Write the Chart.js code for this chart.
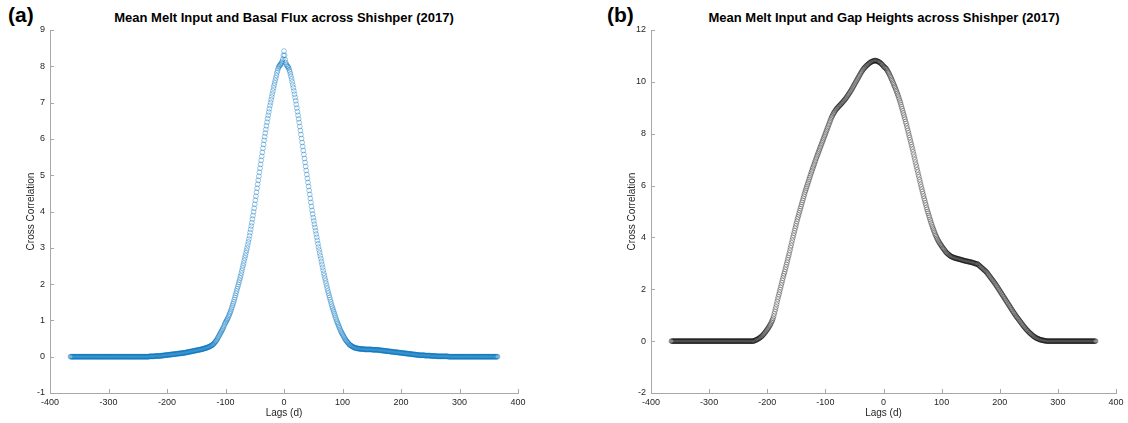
<!DOCTYPE html>
<html>
<head>
<meta charset="utf-8">
<script src="https://cdn.jsdelivr.net/npm/chart.js@4.4.1/dist/chart.umd.min.js"></script>
<style>
  body { margin:0; width:1128px; height:423px; background:#fff; overflow:hidden; position:relative;
         font-family:"Liberation Sans", Arial, Helvetica, sans-serif; }
  .panel { position:absolute; top:0; height:423px; }
  .tag { position:absolute; font-weight:bold; font-size:21px; line-height:24px; color:#000; }
  .ttl { position:absolute; font-weight:bold; font-size:13px; line-height:16px; color:#000;
         white-space:nowrap; transform:translateX(-50%); }
</style>
</head>
<body>
<div class="tag" style="left:8px;top:3px">(a)</div>
<div class="ttl" style="left:284px;top:10px">Mean Melt Input and Basal Flux across Shishper (2017)</div>
<div class="panel" style="left:0;width:560px"><canvas id="chartA" width="560" height="423"></canvas></div>

<div class="tag" style="left:607px;top:3px">(b)</div>
<div class="ttl" style="left:884px;top:10px">Mean Melt Input and Gap Heights across Shishper (2017)</div>
<div class="panel" style="left:600px;width:528px"><canvas id="chartB" width="528" height="423"></canvas></div>

<script>
// lags in days, one value per day
const LAG_FIRST = -365, LAG_LAST = 365;
const lags = Array.from({ length: LAG_LAST - LAG_FIRST + 1 }, (_, i) => LAG_FIRST + i);

// (a) cross correlation, melt input vs basal flux
const basalFlux = [
  // -365 .. -231
  0,0,0,0,0,0,0,0,0,0,0,0,0,0,0,0,0,0,0,0,
  0,0,0,0,0,0,0,0,0,0,0,0,0,0,0,0,0,0,0,0,
  0,0,0,0,0,0,0,0,0,0,0,0,0,0,0,0,0,0,0,0,
  0,0,0,0,0,0,0,0,0,0,0,0,0,0,0,0,0,0,0,0,
  0,0,0,0,0,0,0,0,0,0,0,0,0,0,0,0,0,0,0,0,
  0,0,0,0,0,0,0,0,0,0,0,0,0,0,0,0,0,0,0,0,
  0,0,0,0,0,0,0,0,0,0,0,0,0,0,0,
  // -230 .. -201
  0.01,0.01,0.01,0.01,0.01,0.01,0.01,0.01,0.01,0.01,
  0.02,0.02,0.02,0.02,0.02,0.02,0.02,0.02,0.02,0.02,
  0.03,0.03,0.03,0.03,0.03,0.04,0.04,0.04,0.04,0.04,
  // -200 .. -171
  0.05,0.05,0.05,0.05,0.05,0.06,0.06,0.06,0.06,0.06,
  0.07,0.07,0.07,0.07,0.07,0.08,0.08,0.08,0.08,0.08,
  0.09,0.09,0.09,0.09,0.09,0.1,0.1,0.1,0.1,0.1,
  // -170 .. -141
  0.11,0.11,0.11,0.12,0.12,0.12,0.13,0.13,0.13,0.14,
  0.14,0.14,0.15,0.15,0.15,0.16,0.16,0.16,0.17,0.17,
  0.17,0.18,0.18,0.18,0.19,0.19,0.19,0.2,0.2,0.2,
  // -140 .. -101
  0.21,0.21,0.22,0.22,0.23,0.23,0.24,0.24,0.25,0.25,
  0.26,0.27,0.27,0.28,0.29,0.3,0.31,0.32,0.33,0.34,
  0.36,0.38,0.4,0.42,0.44,0.46,0.49,0.52,0.55,0.58,
  0.61,0.64,0.67,0.7,0.73,0.76,0.79,0.83,0.87,0.91,
  // -100 .. -61
  0.94,0.97,1.0,1.03,1.06,1.1,1.14,1.18,1.22,1.26,
  1.31,1.36,1.41,1.46,1.51,1.57,1.63,1.69,1.75,1.81,
  1.87,1.93,1.99,2.05,2.11,2.17,2.23,2.3,2.37,2.44,
  2.51,2.58,2.65,2.72,2.79,2.86,2.93,3.0,3.08,3.16,
  // -60 .. -21
  3.24,3.33,3.42,3.51,3.6,3.69,3.79,3.89,3.99,4.09,
  4.2,4.31,4.42,4.53,4.64,4.75,4.86,4.97,5.08,5.19,
  5.3,5.41,5.52,5.63,5.74,5.85,5.96,6.06,6.16,6.26,
  6.36,6.46,6.56,6.65,6.74,6.83,6.92,7.0,7.08,7.16,
  // -20 .. -1
  7.24,7.32,7.4,7.47,7.54,7.61,7.68,7.75,7.82,7.88,
  7.94,7.98,8.01,8.03,8.05,8.07,8.1,8.14,8.2,8.3,
  // 0
  8.42,
  // 1 .. 40
  8.3,8.18,8.1,8.05,8.02,8.0,7.98,7.95,7.9,7.85,
  7.79,7.72,7.65,7.57,7.49,7.41,7.32,7.23,7.14,7.05,
  6.95,6.85,6.75,6.65,6.55,6.45,6.34,6.23,6.12,6.01,
  5.9,5.79,5.68,5.57,5.46,5.35,5.24,5.13,5.02,4.91,
  // 41 .. 80
  4.8,4.69,4.58,4.47,4.36,4.25,4.14,4.03,3.93,3.83,
  3.74,3.65,3.56,3.47,3.38,3.29,3.2,3.11,3.02,2.94,
  2.86,2.78,2.7,2.62,2.54,2.46,2.38,2.3,2.23,2.16,
  2.09,2.02,1.95,1.88,1.81,1.75,1.69,1.63,1.57,1.51,
  // 81 .. 120
  1.45,1.39,1.34,1.29,1.24,1.19,1.14,1.09,1.04,0.99,
  0.95,0.91,0.87,0.83,0.79,0.75,0.71,0.68,0.65,0.62,
  0.59,0.56,0.53,0.5,0.47,0.45,0.43,0.41,0.39,0.37,
  0.35,0.33,0.32,0.31,0.3,0.29,0.28,0.27,0.26,0.25,
  // 121 .. 170
  0.25,0.24,0.24,0.23,0.23,0.23,0.22,0.22,0.22,0.22,
  0.21,0.21,0.21,0.21,0.21,0.21,0.21,0.2,0.2,0.2,
  0.2,0.2,0.2,0.2,0.2,0.2,0.2,0.2,0.2,0.2,
  0.19,0.19,0.19,0.19,0.19,0.19,0.19,0.19,0.19,0.19,
  0.18,0.18,0.18,0.18,0.18,0.17,0.17,0.17,0.17,0.17,
  // 171 .. 230
  0.16,0.16,0.16,0.16,0.16,0.15,0.15,0.15,0.15,0.15,
  0.14,0.14,0.14,0.14,0.14,0.13,0.13,0.13,0.13,0.13,
  0.12,0.12,0.12,0.12,0.12,0.11,0.11,0.11,0.11,0.11,
  0.1,0.1,0.1,0.1,0.1,0.09,0.09,0.09,0.09,0.09,
  0.08,0.08,0.08,0.08,0.08,0.07,0.07,0.07,0.07,0.07,
  0.06,0.06,0.06,0.06,0.06,0.05,0.05,0.05,0.05,0.05,
  // 231 .. 280
  0.04,0.04,0.04,0.04,0.04,0.04,0.04,0.04,0.04,0.04,
  0.03,0.03,0.03,0.03,0.03,0.03,0.03,0.03,0.03,0.03,
  0.02,0.02,0.02,0.02,0.02,0.02,0.02,0.02,0.02,0.02,
  0.01,0.01,0.01,0.01,0.01,0.01,0.01,0.01,0.01,0.01,
  0.01,0.01,0.01,0.01,0.01,0.01,0.01,0.01,0.01,0.01,
  // 281 .. 365
  0,0,0,0,0,0,0,0,0,0,0,0,0,0,0,0,0,0,0,0,
  0,0,0,0,0,0,0,0,0,0,0,0,0,0,0,0,0,0,0,0,
  0,0,0,0,0,0,0,0,0,0,0,0,0,0,0,0,0,0,0,0,
  0,0,0,0,0,0,0,0,0,0,0,0,0,0,0,0,0,0,0,0,
  0,0,0,0,0
];

// (b) cross correlation, melt input vs gap heights
const gapHeight = [
  // -365 .. -223
  0,0,0,0,0,0,0,0,0,0,0,0,0,0,0,0,0,0,0,0,
  0,0,0,0,0,0,0,0,0,0,0,0,0,0,0,0,0,0,0,0,
  0,0,0,0,0,0,0,0,0,0,0,0,0,0,0,0,0,0,0,0,
  0,0,0,0,0,0,0,0,0,0,0,0,0,0,0,0,0,0,0,0,
  0,0,0,0,0,0,0,0,0,0,0,0,0,0,0,0,0,0,0,0,
  0,0,0,0,0,0,0,0,0,0,0,0,0,0,0,0,0,0,0,0,
  0,0,0,0,0,0,0,0,0,0,0,0,0,0,0,0,0,0,0,0,
  0,0,0,
  // -222 .. -201
  0.02,0.03,0.04,0.05,0.06,0.07,0.08,0.1,0.11,0.13,0.14,
  0.16,0.18,0.2,0.22,0.25,0.27,0.3,0.33,0.36,0.39,0.42,
  // -200 .. -161
  0.45,0.48,0.52,0.55,0.59,0.63,0.67,0.72,0.77,0.82,
  0.88,0.96,1.05,1.14,1.23,1.32,1.42,1.52,1.62,1.71,
  1.8,1.89,1.98,2.07,2.16,2.25,2.34,2.43,2.52,2.6,
  2.68,2.77,2.86,2.95,3.04,3.13,3.22,3.31,3.4,3.5,
  // -160 .. -121
  3.6,3.69,3.79,3.89,3.99,4.08,4.17,4.26,4.35,4.44,
  4.53,4.62,4.71,4.79,4.87,4.95,5.03,5.11,5.19,5.27,
  5.35,5.43,5.51,5.59,5.67,5.75,5.82,5.89,5.96,6.03,
  6.1,6.17,6.24,6.31,6.38,6.45,6.52,6.58,6.65,6.71,
  // -120 .. -81
  6.78,6.84,6.91,6.97,7.04,7.1,7.16,7.22,7.28,7.34,
  7.4,7.46,7.52,7.58,7.64,7.7,7.76,7.82,7.88,7.94,
  8.0,8.06,8.12,8.18,8.24,8.3,8.36,8.42,8.48,8.54,
  8.6,8.65,8.69,8.74,8.78,8.82,8.85,8.89,8.92,8.95,
  // -80 .. -41
  8.98,9.0,9.03,9.05,9.08,9.1,9.12,9.15,9.17,9.2,
  9.22,9.25,9.28,9.3,9.33,9.36,9.39,9.42,9.46,9.49,
  9.52,9.56,9.59,9.63,9.66,9.7,9.74,9.78,9.82,9.86,
  9.9,9.94,9.98,10.02,10.06,10.1,10.14,10.18,10.22,10.26,
  // -40 .. -1
  10.3,10.34,10.38,10.41,10.45,10.48,10.51,10.54,10.56,10.58,
  10.61,10.63,10.65,10.67,10.69,10.71,10.73,10.74,10.76,10.77,
  10.78,10.79,10.8,10.81,10.81,10.82,10.82,10.82,10.81,10.8,
  10.79,10.78,10.77,10.76,10.74,10.72,10.7,10.68,10.66,10.63,
  // 0
  10.6,
  // 1 .. 40
  10.58,10.56,10.54,10.52,10.5,10.46,10.42,10.38,10.34,10.3,
  10.25,10.2,10.15,10.1,10.05,9.99,9.94,9.88,9.83,9.78,
  9.72,9.66,9.6,9.54,9.48,9.41,9.34,9.27,9.2,9.12,
  9.04,8.96,8.88,8.8,8.72,8.64,8.56,8.47,8.39,8.3,
  // 41 .. 80
  8.21,8.12,8.03,7.94,7.85,7.76,7.67,7.58,7.49,7.4,
  7.3,7.2,7.1,7.0,6.9,6.8,6.71,6.61,6.52,6.42,
  6.33,6.23,6.14,6.04,5.95,5.86,5.77,5.68,5.59,5.5,
  5.42,5.33,5.25,5.16,5.08,5.0,4.93,4.85,4.78,4.7,
  // 81 .. 120
  4.63,4.56,4.49,4.42,4.36,4.3,4.24,4.18,4.12,4.07,
  4.02,3.97,3.92,3.88,3.84,3.8,3.77,3.73,3.7,3.67,
  3.63,3.6,3.57,3.54,3.51,3.48,3.45,3.42,3.4,3.38,
  3.36,3.34,3.32,3.3,3.29,3.27,3.26,3.25,3.24,3.23,
  // 121 .. 160
  3.22,3.21,3.21,3.2,3.19,3.19,3.18,3.17,3.17,3.16,
  3.16,3.15,3.14,3.14,3.13,3.12,3.12,3.11,3.1,3.1,
  3.09,3.09,3.08,3.08,3.07,3.07,3.06,3.06,3.05,3.05,
  3.04,3.04,3.03,3.02,3.02,3.01,3.0,2.99,2.98,2.97,
  // 161 .. 200
  2.99,2.97,2.95,2.93,2.91,2.89,2.87,2.85,2.83,2.81,
  2.79,2.77,2.75,2.73,2.71,2.69,2.67,2.64,2.61,2.58,
  2.55,2.52,2.49,2.46,2.43,2.4,2.37,2.34,2.31,2.28,
  2.25,2.22,2.18,2.15,2.12,2.08,2.05,2.01,1.98,1.94,
  // 201 .. 240
  1.91,1.87,1.84,1.8,1.77,1.73,1.7,1.66,1.63,1.59,
  1.56,1.52,1.49,1.45,1.42,1.38,1.35,1.31,1.28,1.24,
  1.21,1.17,1.14,1.1,1.07,1.04,1.0,0.97,0.94,0.91,
  0.88,0.85,0.82,0.79,0.76,0.73,0.7,0.67,0.64,0.61,
  // 241 .. 280
  0.58,0.55,0.53,0.5,0.47,0.45,0.42,0.4,0.38,0.35,
  0.33,0.31,0.29,0.27,0.25,0.23,0.21,0.19,0.18,0.16,
  0.15,0.13,0.12,0.11,0.1,0.09,0.08,0.07,0.06,0.05,
  0.05,0.04,0.04,0.03,0.03,0.02,0.02,0.01,0.01,0.01,
  // 281 .. 365
  0,0,0,0,0,0,0,0,0,0,0,0,0,0,0,0,0,0,0,0,
  0,0,0,0,0,0,0,0,0,0,0,0,0,0,0,0,0,0,0,0,
  0,0,0,0,0,0,0,0,0,0,0,0,0,0,0,0,0,0,0,0,
  0,0,0,0,0,0,0,0,0,0,0,0,0,0,0,0,0,0,0,0,
  0,0,0,0,0
];

// axis ticks
const xTicksA = [-400, -300, -200, -100, 0, 100, 200, 300, 400];
const yTicksA = [-1, 0, 1, 2, 3, 4, 5, 6, 7, 8, 9];
const xTicksB = [-400, -300, -200, -100, 0, 100, 200, 300, 400];
const yTicksB = [-2, 0, 2, 4, 6, 8, 10, 12];

[['basalFlux', basalFlux], ['gapHeight', gapHeight]].forEach(([n, arr]) => {
  if (arr.length !== lags.length) throw new Error(n + ' has ' + arr.length + ' values, expected ' + lags.length);
});

const axisGrey = '#a8a8a8';
const labelCol = '#262626';
Chart.defaults.font.family = '"Liberation Sans", Arial, Helvetica, sans-serif';

// MATLAB style ticks, pointing into the plot
const innerTicks = {
  id: 'innerTicks',
  afterDraw(chart) {
    const { ctx, chartArea: a, scales: { x, y } } = chart;
    ctx.save();
    ctx.strokeStyle = axisGrey;
    ctx.lineWidth = 1;
    ctx.beginPath();
    x.ticks.forEach((t, i) => {
      const px = Math.round(x.getPixelForTick(i)) + 0.5;
      ctx.moveTo(px, a.bottom); ctx.lineTo(px, a.bottom - 4);
    });
    y.ticks.forEach((t, i) => {
      const py = Math.round(y.getPixelForTick(i)) + 0.5;
      ctx.moveTo(a.left, py); ctx.lineTo(a.left + 4, py);
    });
    ctx.stroke();
    ctx.restore();
  }
};

function panel(id, values, colour, xTicks, yTicks, pad) {
  return new Chart(document.getElementById(id), {
    type: 'scatter',
    data: { datasets: [{
      data: lags.map((l, i) => ({ x: l, y: values[i] })),
      pointStyle: 'circle', pointRadius: 2.4, borderWidth: 0.8,
      borderColor: colour, backgroundColor: 'rgba(0,0,0,0)'
    }]},
    options: {
      responsive: false, animation: false,
      layout: { padding: pad },
      plugins: { legend: { display: false }, tooltip: { enabled: false } },
      scales: {
        x: {
          min: xTicks[0], max: xTicks[xTicks.length - 1],
          afterBuildTicks: s => { s.ticks = xTicks.map(v => ({ value: v })); },
          afterFit: s => { s.height = 30; },
          ticks: { color: labelCol, font: { size: 9 }, padding: 4, maxRotation: 0, autoSkip: false },
          grid: { drawOnChartArea: false, drawTicks: false },
          border: { color: axisGrey, width: 1 },
          title: { display: true, text: 'Lags (d)', color: labelCol, font: { size: 10 }, padding: { top: 0, bottom: 4 } }
        },
        y: {
          min: yTicks[0], max: yTicks[yTicks.length - 1],
          afterBuildTicks: s => { s.ticks = yTicks.map(v => ({ value: v })); },
          afterFit: s => { s.width = 30; },
          ticks: { color: labelCol, font: { size: 9 }, padding: 5 },
          grid: { drawOnChartArea: false, drawTicks: false },
          border: { color: axisGrey, width: 1 },
          title: { display: true, text: 'Cross Correlation', color: labelCol, font: { size: 10 }, padding: { top: 5, bottom: 0 } }
        }
      }
    },
    plugins: [innerTicks]
  });
}

panel('chartA', basalFlux, 'rgba(0,114,189,0.5)', xTicksA, yTicksA, { left: 20, right: 42, top: 30, bottom: 0 });
panel('chartB', gapHeight, 'rgba(0,0,0,0.4)', xTicksB, yTicksB, { left: 21, right: 12, top: 30, bottom: 0 });
</script>
</body>
</html>
